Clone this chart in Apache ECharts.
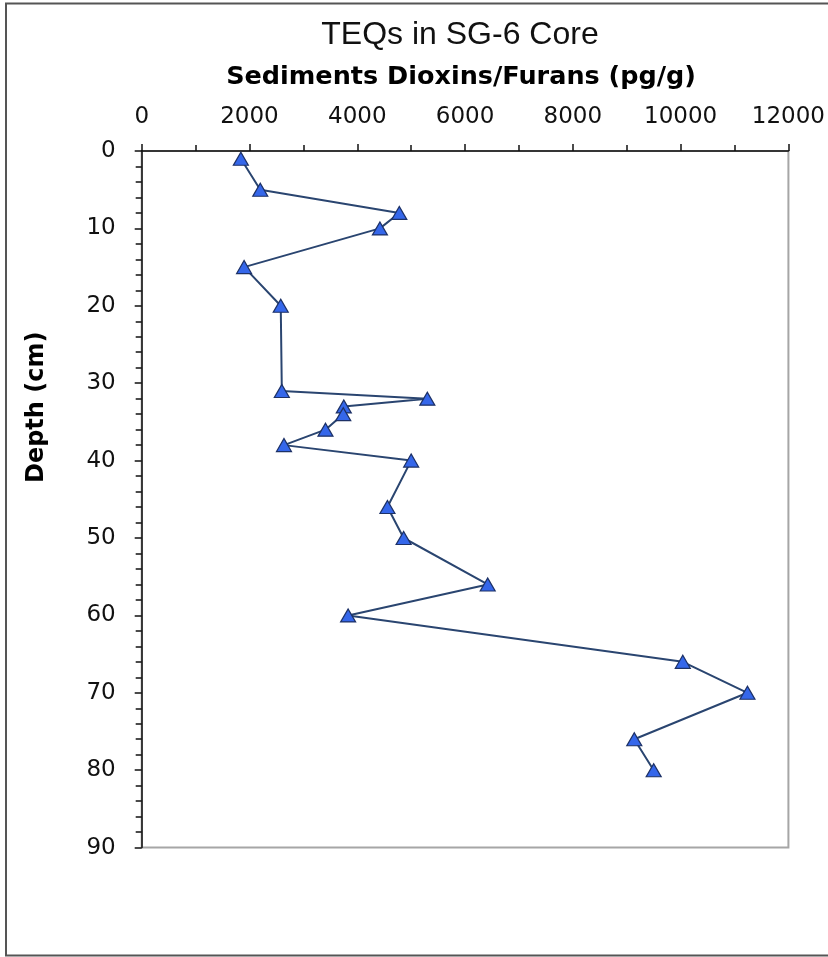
<!DOCTYPE html>
<html>
<head>
<meta charset="utf-8">
<script src="https://cdn.jsdelivr.net/npm/echarts@6/dist/echarts.min.js"></script>
<style>
html,body{margin:0;padding:0;background:#fff;}
#chart{width:828px;height:957px;}
</style>
</head>
<body>
<div id="chart"></div>
<script>
// Data
var chartTitle = 'TEQs in SG-6 Core';
var xAxisTitle = 'Sediments Dioxins/Furans (pg/g)';
var yAxisTitle = 'Depth (cm)';
var depthCm = [1, 5, 8, 10, 15, 20, 31, 32, 33, 34, 36, 38, 40, 46, 50, 56, 60, 66, 70, 76, 80];
var teqPgG  = [1840, 2200, 4780, 4420, 1900, 2580, 2600, 5300, 3750, 3740, 3410, 2640, 5000, 4560, 4860, 6420, 3830, 10040, 11240, 9140, 9500];
var xTicks = [0, 2000, 4000, 6000, 8000, 10000, 12000];
var yTicks = [0, 10, 20, 30, 40, 50, 60, 70, 80, 90];

var points = depthCm.map(function (d, i) { return [teqPgG[i], d]; });

var chart = echarts.init(document.getElementById('chart'), null, {renderer: 'canvas'});
var labelFont = 'DejaVu Sans';
chart.setOption({
  animation: false,
  backgroundColor: '#fff',
  title: {
    text: chartTitle,
    left: 455,
    top: 14,
    textAlign: 'center',
    textStyle: {fontFamily: 'Liberation Sans', fontSize: 32, fontWeight: 'normal', color: '#111'}
  },
  graphic: [{
    type: 'rect',
    shape: {x: 6, y: 3.5, width: 900, height: 952},
    style: {fill: null, stroke: '#555', lineWidth: 2},
    silent: true
  }],
  grid: {
    left: 141.7, top: 151, right: 38.3, bottom: 109.4,
    show: true, borderColor: '#a6a6a6', borderWidth: 2, backgroundColor: 'transparent'
  },
  xAxis: {
    type: 'value',
    position: 'top',
    min: xTicks[0], max: xTicks[xTicks.length - 1], interval: 2000,
    name: xAxisTitle,
    nameLocation: 'middle',
    nameGap: 61,
    nameTextStyle: {fontFamily: labelFont, fontSize: 25.5, fontWeight: 'bold', color: '#000', padding: [0, 8, 0, 0]},
    axisLine: {show: true, lineStyle: {color: '#111', width: 1.5}},
    axisTick: {show: true, inside: false, length: 7, lineStyle: {color: '#111', width: 1.5}},
    minorTick: {show: true, splitNumber: 2, length: 6, lineStyle: {color: '#111', width: 1.5}},
    splitLine: {show: false},
    axisLabel: {fontFamily: labelFont, fontSize: 23, color: '#111', margin: 22,
      formatter: function (v) { return String(v); }}
  },
  yAxis: {
    type: 'value',
    inverse: true,
    min: yTicks[0], max: yTicks[yTicks.length - 1], interval: 10,
    name: yAxisTitle,
    nameLocation: 'middle',
    nameRotate: 90,
    nameGap: 93,
    nameTextStyle: {fontFamily: labelFont, fontSize: 24, fontWeight: 'bold', color: '#000', padding: [0, 0, 0, 184]},
    axisLine: {show: true, lineStyle: {color: '#111', width: 1.5}},
    axisTick: {show: true, inside: false, length: 7, lineStyle: {color: '#111', width: 1.5}},
    minorTick: {show: true, splitNumber: 5, length: 6, lineStyle: {color: '#111', width: 1.5}},
    splitLine: {show: false},
    axisLabel: {fontFamily: labelFont, fontSize: 23, color: '#111', margin: 26,
      formatter: function (v) { return String(v); }}
  },
  series: [{
    type: 'line',
    data: points,
    symbol: 'triangle',
    symbolSize: [15, 13],
    showAllSymbol: true,
    lineStyle: {color: '#2a4570', width: 2},
    itemStyle: {color: '#3567ea', borderColor: '#1d3166', borderWidth: 1.2},
    z: 3
  }]
});
</script>
</body>
</html>
